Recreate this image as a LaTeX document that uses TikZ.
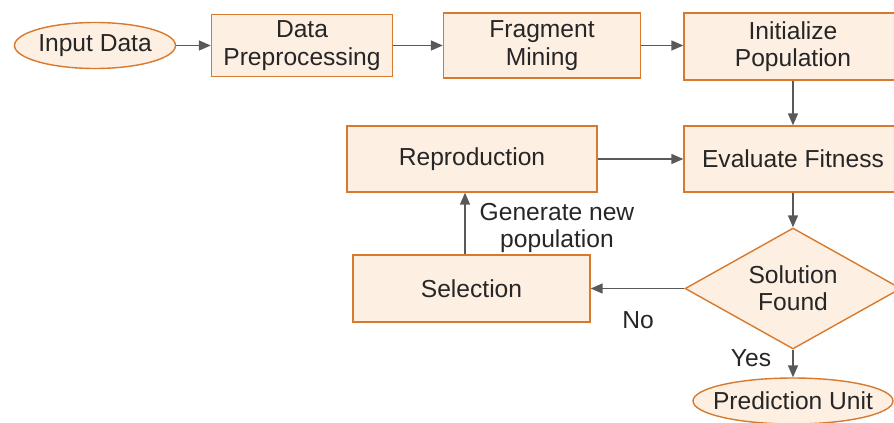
\documentclass[tikz,border=0pt]{standalone}
\usepackage{xcolor}
\usepackage{fontspec}
\setmainfont{Liberation Sans}
\usepackage{tikz}
\usetikzlibrary{arrows.meta, shapes.geometric}
\definecolor{stepfill}{RGB}{253,239,226}
\definecolor{stepline}{RGB}{214,122,48}
\definecolor{flowgray}{RGB}{89,89,89}

\tikzset{
  stepbox/.style={draw=stepline, line width=0.8pt, fill=stepfill, align=center,
    inner sep=0pt, font={\fontsize{14}{15.5}\selectfont}, text=black!85},
  termbox/.style={stepbox, ellipse},
  decbox/.style={stepbox, diamond, aspect=1.8, minimum width=4.32cm, minimum height=2.42cm},
  flow/.style={draw=flowgray, line width=0.9pt,
    -{Triangle[length=0.24cm, width=0.2cm]}},
  flowlabel/.style={font={\fontsize{14}{15.5}\selectfont}, text=black!85, align=center}
}

\begin{document}
\begin{tikzpicture}[x=0.02cm, y=-0.02cm]
  \useasboundingbox (0,0) rectangle (894,423);

  % top row
  \node[termbox, minimum width=3.22cm, minimum height=0.92cm] (input) at (95,45.5) {Input Data};
  \node[stepbox, minimum width=3.62cm, minimum height=1.24cm] (prep) at (302,45.5) {Data\\Preprocessing};
  \node[stepbox, minimum width=3.94cm, minimum height=1.3cm] (mining) at (542,45.5) {Fragment\\Mining};
  \node[stepbox, minimum width=4.36cm, minimum height=1.34cm] (init) at (793,46.5) {Initialize\\Population};

  % loop
  \node[stepbox, minimum width=4.36cm, minimum height=1.32cm] (fitness) at (793,159) {Evaluate Fitness};
  \node[stepbox, minimum width=5cm, minimum height=1.32cm] (repro) at (472,159) {Reproduction};
  \node[decbox] (found) at (793,288.5) {Solution\\Found};
  \node[stepbox, minimum width=4.74cm, minimum height=1.34cm] (select) at (471.5,288.5) {Selection};
  \node[termbox, inner xsep=-0.2cm, minimum width=4cm, minimum height=0.92cm] (predict) at (793,401) {Prediction Unit};

  \draw[flow] (input) -- (prep);
  \draw[flow] (prep) -- (mining);
  \draw[flow] (mining.east) -- (mining.east -| init.west);
  \draw[flow] (init) -- (fitness);
  \draw[flow] (repro) -- (fitness);
  \draw[flow] (fitness) -- (found);
  \draw[flow] (found) -- (select);
  \draw[flow] (found) -- (predict);
  \draw[flow] (select.north -| 465,0) -- (repro.south -| 465,0);

  \node[flowlabel] (genlabel) at (557,228) {Generate new\\population};
  \node[flowlabel] (nolabel) at (638,320) {No};
  \node[flowlabel] (yeslabel) at (751,358) {Yes};
\end{tikzpicture}
\end{document}
